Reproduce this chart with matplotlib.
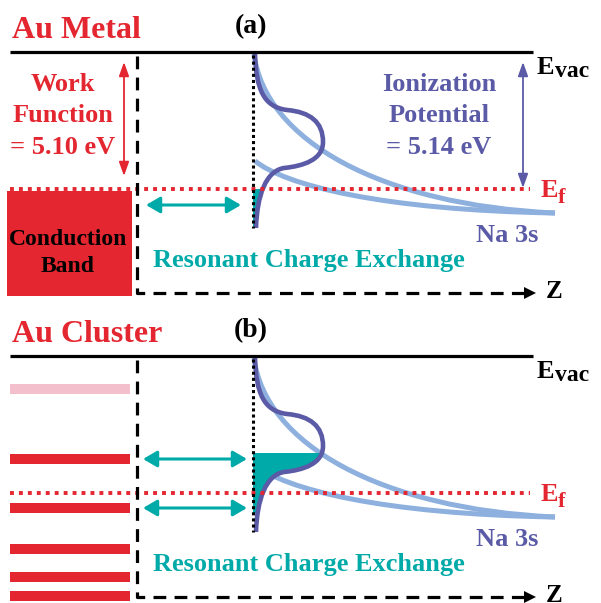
import matplotlib.pyplot as plt
from matplotlib.path import Path
from matplotlib.patches import PathPatch, Rectangle

plt.rcParams['font.family'] = 'Liberation Serif'
plt.rcParams['font.weight'] = 'bold'

RED = '#e3262f'
TEAL = '#00aaa8'
PURPLE = '#5a5aa6'
LBLUE = '#8db0de'
PINK = '#f4bfcc'

# schematic values (pixel units of the picture)
panel_shift = [0, 304]            # panel (a), panel (b)
panel_titles = ['Au Metal', 'Au Cluster']
panel_labels = ['(a)', '(b)']
evac_y = 52
ef_y = 189
work_function = '= 5.10 eV'
ionization = '= 5.14 eV'
cluster_levels = [389, 459, 508, 549, 577, 596]
cluster_colors = [PINK, RED, RED, RED, RED, RED]
exchange_rows_b = [459, 508]

# Na 3s level curves (cubic bezier control points)
na_upper = [(254, 54), (265, 140), (380, 205), (555, 213)]
na_lower = [(255, 161), (285, 185), (380, 210), (555, 213)]
# density of states of the Na 3s level
dos = [(255, 53), (256, 90), (264, 107), (287, 110),
       (310, 112), (323, 122), (323, 142),
       (323, 160), (303, 166), (284, 168),
       (266, 171), (257, 195), (256, 228)]

fig = plt.figure(figsize=(6.01, 6.03), dpi=100)
ax = fig.add_axes([0, 0, 1, 1])
ax.set_xlim(0, 601)
ax.set_ylim(603, 0)
ax.axis('off')


def bez(pts, dy):
    verts = [(x, y + dy) for x, y in pts]
    codes = [Path.MOVETO] + [Path.CURVE4] * (len(verts) - 1)
    return Path(verts, codes)


def dbl_arrow(x0, x1, y, color, lw, ms, hl=0.6, hw=0.35):
    ax.annotate('', xy=(x1, y), xytext=(x0, y),
                arrowprops=dict(arrowstyle='<|-|>,head_length=%g,head_width=%g' % (hl, hw),
                                color=color, lw=lw, mutation_scale=ms,
                                shrinkA=0, shrinkB=0))


def vdbl_arrow(x, y0, y1, color):
    ax.annotate('', xy=(x, y1), xytext=(x, y0),
                arrowprops=dict(arrowstyle='<|-|>,head_length=0.7,head_width=0.25',
                                color=color, lw=1.3, mutation_scale=12,
                                shrinkA=0, shrinkB=0))


for i, dy in enumerate(panel_shift):
    # titles
    ax.text(12, 30 + dy, panel_titles[i], color=RED, fontsize=23, va='center', ha='left')
    ax.text(251, 27 + dy, panel_labels[i], color='black', fontsize=20, va='center', ha='center')

    # vacuum level
    ax.plot([10, 533], [evac_y + dy, evac_y + dy], color='black', lw=2.3, solid_capstyle='butt')
    ax.text(537, 74 + dy, 'E', fontsize=19, va='baseline', ha='left')
    ax.text(555, 77 + dy, 'vac', fontsize=17, va='baseline', ha='left')

    # fermi level
    ax.plot([10, 530], [ef_y + dy, ef_y + dy], color=RED, lw=2.8,
            linestyle=(0, (1, 1.3)), dash_capstyle='butt')
    ax.text(541, 197 + dy, 'E', color=RED, fontsize=19, va='baseline', ha='left')
    ax.text(558, 203 + dy, 'f', color=RED, fontsize=16, va='baseline', ha='left')

    # surface / z axis
    ax.plot([137, 137, 524], [56 + dy, 293 + dy, 293 + dy], color='black', lw=2.3,
            linestyle=(0, (4, 2.6)), dash_capstyle='butt')
    ax.plot([530], [293 + dy], marker='>', ms=8, color='black', mew=0)
    ax.text(546, 291 + dy, 'Z', fontsize=18, va='center', ha='left')

    # atom position
    ax.plot([253, 253], [55 + dy, 228 + dy], color='black', lw=2.2,
            linestyle=(0, (1, 1)), dash_capstyle='butt')

    # Na 3s curves
    ax.add_patch(PathPatch(bez(na_upper, dy), fill=False, edgecolor=LBLUE, lw=3.6))
    ax.add_patch(PathPatch(bez(na_lower, dy), fill=False, edgecolor=LBLUE, lw=3.6))
    ax.text(507, 235 + dy, 'Na 3s', color=PURPLE, fontsize=19, va='center', ha='center')

    # filled part of the Na 3s level
    p = bez(dos, dy)
    verts = list(p.vertices) + [(253, 228 + dy), (253, 53 + dy), (253, 53 + dy)]
    codes = list(p.codes) + [Path.LINETO, Path.LINETO, Path.CLOSEPOLY]
    fill = PathPatch(Path(verts, codes), facecolor=TEAL, edgecolor='none')
    top = ef_y if i == 0 else exchange_rows_b[0] - 6
    clip = Rectangle((240, top + (dy if i == 0 else 0)), 120, 60)
    clip.set_transform(ax.transData)
    ax.add_patch(fill)
    fill.set_clip_path(clip)
    ax.add_patch(PathPatch(p, fill=False, edgecolor=PURPLE, lw=3.3))

    ax.text(153, 260 + dy, 'Resonant Charge Exchange', color=TEAL, fontsize=19,
            va='center', ha='left')

# panel (a) metal
ax.add_patch(Rectangle((7, 191), 125, 105, facecolor=RED, edgecolor='none'))
ax.text(68, 253, 'Conduction\nBand', fontsize=17, ha='center', va='center', linespacing=1.35)
vdbl_arrow(124, 62, 176, RED)
ax.text(63, 116, 'Work\nFunction\n' + work_function, color=RED, fontsize=19,
        ha='center', va='center', linespacing=1.45)
vdbl_arrow(523, 62, 188, PURPLE)
ax.text(439, 116, 'Ionization\nPotential\n' + ionization, color=PURPLE, fontsize=19,
        ha='center', va='center', linespacing=1.45)
dbl_arrow(146, 241, 205, TEAL, 2.2, 14)

# panel (b) cluster levels
for y, c in zip(cluster_levels, cluster_colors):
    ax.add_patch(Rectangle((10, y - 5), 120, 10, facecolor=c, edgecolor='none'))
for y in exchange_rows_b:
    dbl_arrow(143, 247, y, TEAL, 2.2, 14)

fig.savefig('out.png', dpi=100)
